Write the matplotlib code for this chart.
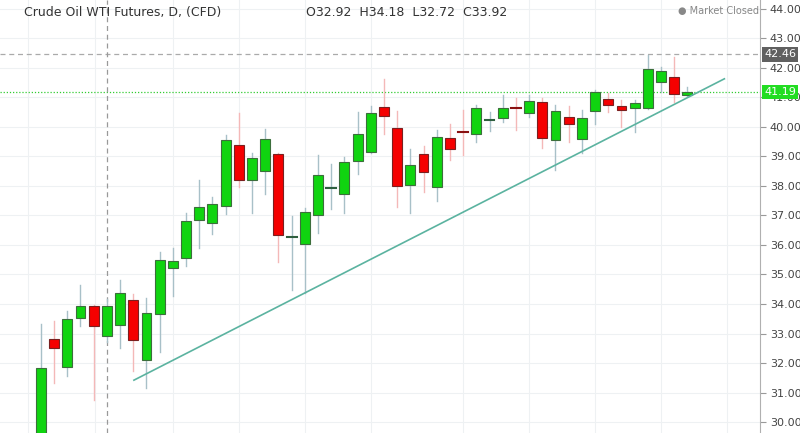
import matplotlib
matplotlib.use("Agg")
import matplotlib.pyplot as plt
from matplotlib.patches import Rectangle

opens  = [29.60,32.81,31.86,33.53,33.93,32.92,33.29,34.14,32.10,33.66,35.22,35.56,36.85,36.75,37.32,39.39,38.20,38.51,39.08,36.26,36.03,37.02,37.92,37.73,38.85,39.15,40.68,39.97,38.03,39.08,37.97,39.63,39.84,39.76,40.23,40.30,40.64,40.47,40.85,39.56,40.34,39.59,40.54,40.95,40.71,40.64,40.64,41.53,41.69,41.08]
highs  = [33.32,33.42,33.76,34.64,33.95,34.18,34.81,34.34,34.20,35.76,35.90,37.08,38.20,37.63,39.73,40.47,39.12,39.93,39.12,36.98,37.25,39.05,38.75,38.98,40.51,40.71,41.63,40.54,39.25,39.36,39.90,40.10,40.58,40.75,40.51,41.08,40.98,41.08,40.98,40.75,40.71,40.58,41.25,41.15,40.92,40.92,42.44,42.03,42.37,41.36]
lows   = [29.00,31.32,31.56,33.25,30.75,32.72,32.51,31.73,31.15,32.37,34.27,35.29,35.90,36.37,37.05,37.97,37.08,37.73,35.42,34.47,34.37,36.41,37.22,37.08,38.41,39.12,39.76,37.29,37.08,37.80,37.49,38.88,39.05,39.49,39.86,40.17,39.90,40.34,39.29,38.54,39.49,39.12,40.10,40.51,40.00,39.83,40.60,41.19,40.85,41.05]
closes = [31.83,32.51,33.49,33.93,33.25,33.92,34.37,32.78,33.69,35.49,35.46,36.81,37.29,37.39,39.56,38.20,38.95,39.59,36.34,36.28,37.12,38.37,37.94,38.81,39.76,40.47,40.37,38.00,38.71,38.47,39.66,39.25,39.82,40.64,40.25,40.64,40.60,40.88,39.63,40.54,40.10,40.30,41.19,40.75,40.58,40.81,41.97,41.90,41.12,41.19]
trend_x = [7.05, 51.8]
trend_y = [31.42, 41.63]
grid_x = [-1, 4.1, 10, 15, 20, 25, 32, 37, 42, 47, 52]
yticks = list(range(30, 45))
last_high = 42.46
last_close = 41.19

fig = plt.figure(figsize=(8, 4.33), dpi=100)
ax = fig.add_axes([0, 0, 0.95, 1])
ax.set_xlim(-3.1, 54.5)
ax.set_ylim(29.63, 44.3)
for gx in grid_x:
    ax.axvline(gx, color="#eef1f3", lw=0.8, zorder=0)
for t in yticks:
    ax.axhline(t, color="#eef1f3", lw=0.8, zorder=0)

w = 0.75
for i, (o, h, l, c) in enumerate(zip(opens, highs, lows, closes)):
    up = c >= o
    fc = "#10d410" if up else "#f50000"
    wc = "#a8c0c8" if up else "#f4b8b8"
    ax.plot([i, i], [l, h], color=wc, lw=1, zorder=2)
    lo, hi = min(o, c), max(o, c)
    if hi - lo < 0.05:
        ax.plot([i - w/2, i + w/2], [o, o], color="#2f5f3f" if up else "#8a1010", lw=1.5, zorder=3)
    else:
        ax.add_patch(Rectangle((i - w/2, lo), w, hi - lo, facecolor=fc,
                               edgecolor="#3c6e3c" if up else "#7a2020", lw=0.8, zorder=3))

ax.plot(trend_x, trend_y, color="#5bb3a0", lw=1.2, zorder=4)
ax.axhline(last_high, color="#aaaaaa", lw=0.9, ls=(0, (4, 3)), zorder=1)
ax.axhline(last_close, color="#33cc33", lw=0.9, ls=(0, (1, 1.5)), zorder=1)
ax.axvline(5, color="#999999", lw=0.9, ls=(0, (4, 3)), zorder=1)

ax.yaxis.tick_right()
ax.set_yticks(yticks)
ax.set_yticklabels([f"{t:.2f}" for t in yticks], fontsize=8, color="#444444")
ax.tick_params(axis="y", length=4, color="#999999", pad=3)
ax.set_xticks([])
for s in ["top", "left", "bottom"]:
    ax.spines[s].set_visible(False)
ax.spines["right"].set_color("#b0b0b0")

ax.annotate(f"{last_high:.2f}", xy=(1, last_high), xycoords=("axes fraction", "data"),
            xytext=(3, 0), textcoords="offset points", va="center", fontsize=8, color="white",
            bbox=dict(boxstyle="square,pad=0.2", fc="#606060", ec="none"), zorder=10)
ax.annotate(f"{last_close:.2f}", xy=(1, last_close), xycoords=("axes fraction", "data"),
            xytext=(3, 0), textcoords="offset points", va="center", fontsize=8, color="white",
            bbox=dict(boxstyle="square,pad=0.2", fc="#22dd22", ec="none"), zorder=10)

fig.text(0.03, 0.972, "Crude Oil WTI Futures, D, (CFD)", fontsize=9, color="#333333", va="center")
fig.text(0.383, 0.972, "O32.92  H34.18  L32.72  C33.92", fontsize=9, color="#333333", va="center")
fig.text(0.848, 0.975, "● Market Closed", fontsize=7, color="#888888", va="center")
fig.savefig("out.png", dpi=100)
